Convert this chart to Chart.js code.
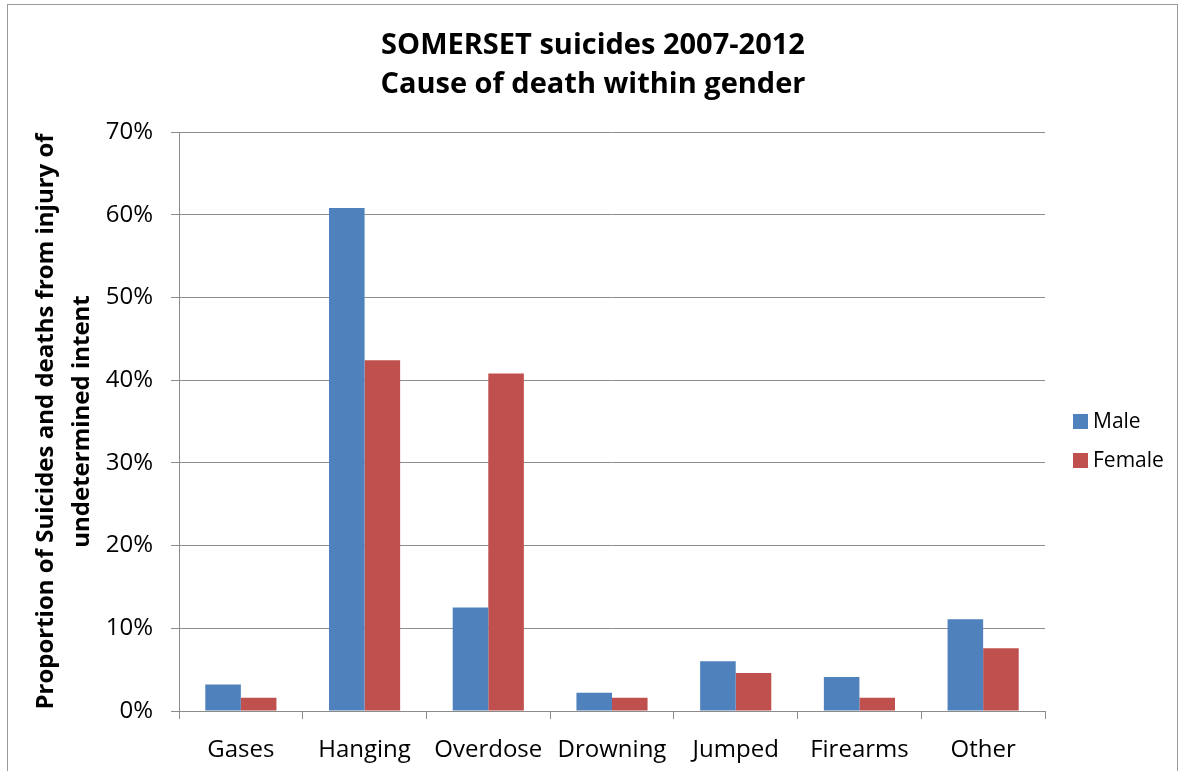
<!DOCTYPE html>
<html>
<head>
<meta charset="utf-8">
<script src="https://cdn.jsdelivr.net/npm/chart.js@4/dist/chart.umd.min.js"></script>
<style>
  html, body { margin: 0; padding: 0; background: #ffffff; }
  #wrap { width: 1179px; height: 771px; position: relative; }
</style>
</head>
<body>
<div id="wrap"><canvas id="c" width="1179" height="771"></canvas></div>
<script>
// Cause of death categories
const categories = ['Gases', 'Hanging', 'Overdose', 'Drowning', 'Jumped', 'Firearms', 'Other'];
// Share of deaths within each gender (%)
const maleValues = [3.2, 60.8, 12.5, 2.2, 6.0, 4.1, 11.1];
const femaleValues = [1.6, 42.4, 40.8, 1.6, 4.6, 1.6, 7.6];
const seriesNames = ['Male', 'Female'];
const titleLines = ['SOMERSET suicides 2007-2012', 'Cause of death within gender'];
const yTitleLines = ['Proportion of Suicides and deaths from injury of', 'undetermined intent'];

const FONT = "'Open Sans', 'DejaVu Sans', sans-serif";
const AXIS_GRAY = '#8c8c8c';

// White background, outer frame, centred two-line title and right-hand legend
const frameTitleLegend = {
  id: 'frameTitleLegend',
  beforeDraw(chart) {
    const ctx = chart.ctx;
    ctx.save();
    ctx.fillStyle = '#ffffff';
    ctx.fillRect(0, 0, chart.width, chart.height);
    ctx.strokeStyle = '#9a9a9a';
    ctx.lineWidth = 1;
    ctx.strokeRect(7.5, 4.5, chart.width - 9, chart.height + 10);
    ctx.restore();
  },
  afterDraw(chart) {
    const ctx = chart.ctx;
    ctx.save();
    // title
    ctx.fillStyle = '#000000';
    ctx.font = 'bold 29px ' + FONT;
    ctx.textAlign = 'center';
    ctx.textBaseline = 'middle';
    const cx = 593;
    titleLines.forEach((line, i) => ctx.fillText(line, cx, 46 + i * 39));
    // legend
    const x = chart.chartArea.right + 28;
    const y0 = 421;
    chart.data.datasets.forEach((ds, i) => {
      const y = y0 + i * 39;
      ctx.fillStyle = ds.backgroundColor;
      ctx.fillRect(x, y - 7, 15, 15);
      ctx.fillStyle = '#000000';
      ctx.font = '21px ' + FONT;
      ctx.textBaseline = 'middle';
      ctx.textAlign = 'left';
      ctx.fillText(ds.label, x + 20, y + 1);
    });
    ctx.restore();
  }
};

new Chart(document.getElementById('c'), {
  type: 'bar',
  data: {
    labels: categories,
    datasets: [
      { label: seriesNames[0], data: maleValues, backgroundColor: '#4F81BD' },
      { label: seriesNames[1], data: femaleValues, backgroundColor: '#C0504D' }
    ]
  },
  options: {
    responsive: false,
    animation: false,
    devicePixelRatio: 1,
    categoryPercentage: 0.575,
    barPercentage: 1.0,
    layout: { padding: { left: 10, right: 134, top: 132, bottom: 0 } },
    plugins: {
      legend: { display: false },
      tooltip: { enabled: false },
      title: { display: false }
    },
    scales: {
      x: {
        grid: {
          offset: true,
          drawOnChartArea: false,
          drawTicks: true,
          tickLength: 8,
          color: AXIS_GRAY
        },
        border: { display: true, color: AXIS_GRAY, width: 1 },
        ticks: {
          color: '#000000',
          font: { family: FONT, size: 24 },
          padding: 17,
          maxRotation: 0,
          autoSkip: false
        },
        afterFit(scale) { scale.height = 60; }
      },
      y: {
        min: 0,
        max: 70,
        ticks: {
          stepSize: 10,
          color: '#000000',
          font: { family: FONT, size: 24 },
          padding: 18,
          callback: (v) => v + '%'
        },
        grid: { color: AXIS_GRAY, tickLength: 8, lineWidth: 1 },
        border: { display: true, color: AXIS_GRAY, width: 1 },
        title: {
          display: true,
          text: yTitleLines,
          color: '#000000',
          font: { family: FONT, size: 24, weight: 'bold', lineHeight: 1.5 },
          padding: { top: 18, bottom: 0 }
        },
        afterFit(scale) { scale.width = 169; }
      }
    }
  },
  plugins: [frameTitleLegend]
});
</script>
</body>
</html>
